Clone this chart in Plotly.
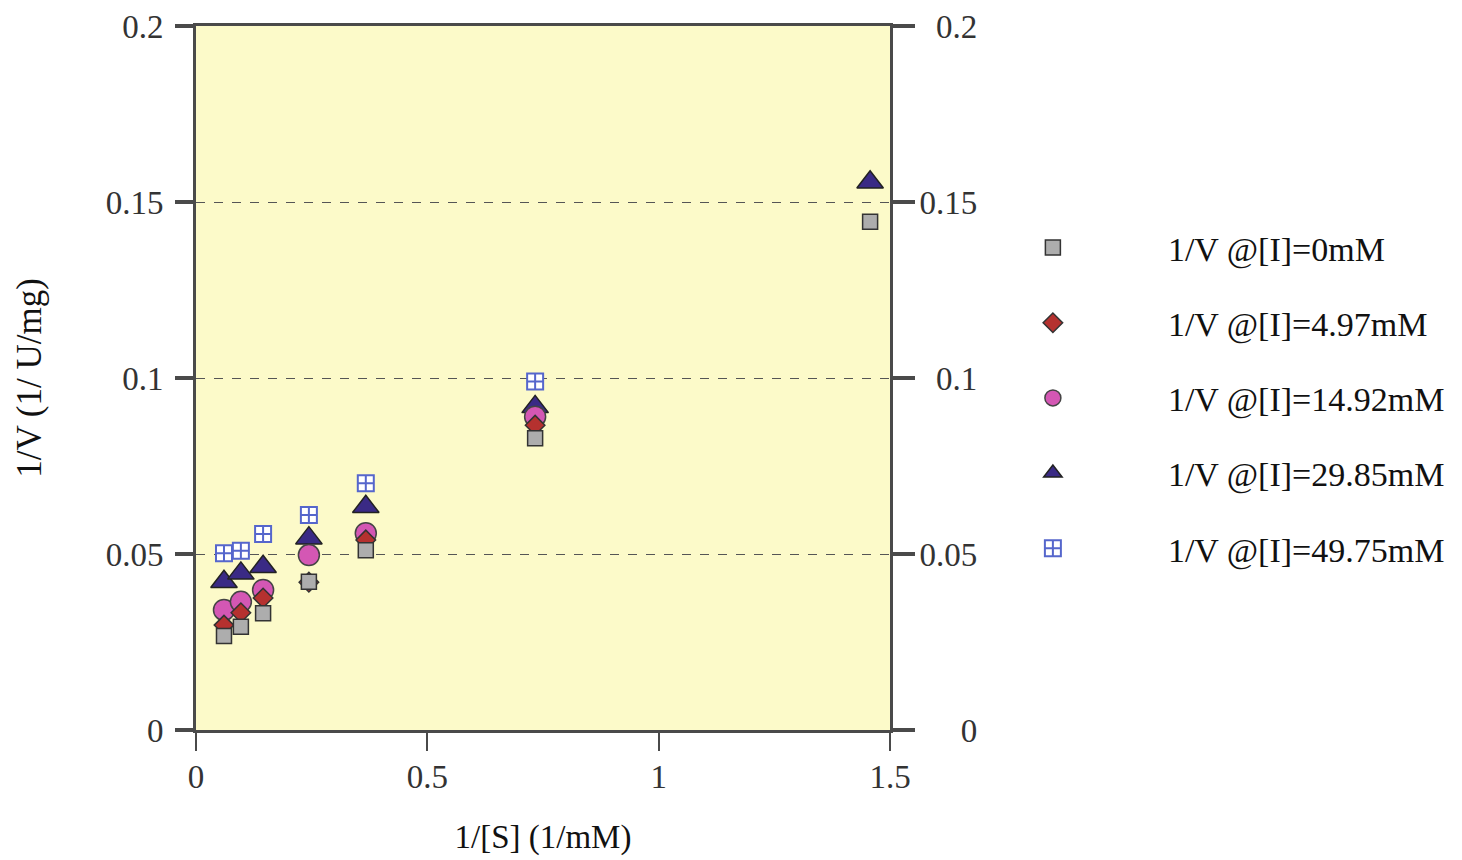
import plotly.graph_objects as go

# 1/[S] values (1/mM)
inv_s = [0.0605, 0.097, 0.145, 0.244, 0.367, 0.733, 1.457]

series_names = [
    "1/V @[I]=0mM",
    "1/V @[I]=4.97mM",
    "1/V @[I]=14.92mM",
    "1/V @[I]=29.85mM",
    "1/V @[I]=49.75mM",
]

inv_v_0 = [0.0267, 0.0293, 0.0332, 0.0421, 0.0511, 0.0829, 0.1444]
inv_v_497 = [0.0298, 0.0333, 0.0375, 0.0420, 0.0540, 0.0866, None]
inv_v_1492 = [0.0341, 0.0364, 0.0398, 0.0497, 0.0559, 0.0890, None]
inv_v_2985 = [0.0421, 0.0445, 0.0464, 0.0545, 0.0634, 0.0918, 0.1556]
inv_v_4975 = [0.0502, 0.0509, 0.0557, 0.0611, 0.0701, 0.0990, None]

y_ticks = [0, 0.05, 0.1, 0.15, 0.2]
y_left_text = ["0", "0.05", "0.1", "0.15", "0.2"]
y_right_text = ["\u2007\u2007\u20080", "0.05", "\u20070.1", "0.15", "\u20070.2"]
x_ticks = [0, 0.5, 1, 1.5]
x_tick_text = ["0", "0.5", "1", "1.5"]

series_values = [inv_v_0, inv_v_497, inv_v_1492, inv_v_2985, inv_v_4975]
styles = [
    dict(symbol="square", size=15, color="#adadad", line=dict(color="#333333", width=1.5)),
    dict(symbol="diamond", size=15, color="#b5312f", line=dict(color="#333333", width=1.5)),
    dict(symbol="circle", size=21, color="#d457b4", line=dict(color="#444444", width=1.5)),
    dict(symbol="triangle-up", size=23, color="#3a2a85", line=dict(color="#222222", width=1.5)),
    dict(symbol="square-cross", size=16, color="#ffffff", line=dict(color="#5566cc", width=2)),
]

FONT = "Liberation Serif, Times New Roman, serif"

fig = go.Figure()
# draw last series first so that the first series sits on top (as in the reference)
for i in reversed(range(len(series_names))):
    fig.add_trace(go.Scatter(
        x=inv_s, y=series_values[i], mode="markers", name=series_names[i],
        marker=styles[i], legendrank=i + 1, legendgroup=f"g{i}",
        cliponaxis=False,
    ))

# invisible trace to bind right axis
fig.add_trace(go.Scatter(x=[None], y=[None], yaxis="y2", showlegend=False, hoverinfo="skip"))

axis_color = "#4a4a4a"
fig.update_layout(
    width=1454, height=852,
    margin=dict(l=188, r=572, t=18, b=130, autoexpand=False),
    paper_bgcolor="white",
    plot_bgcolor="#fcfac9",
    font=dict(family=FONT, size=33, color="#333333"),
    showlegend=True,
    legend=dict(
        x=1.069, y=0.726, xanchor="left", yanchor="top",
        font=dict(family=FONT, size=34, color="#111111"),
        itemwidth=220, tracegroupgap=28, bgcolor="rgba(0,0,0,0)",
    ),
    xaxis=dict(
        range=[0, 1.5], tickvals=x_ticks, ticktext=x_tick_text,
        showline=True, linecolor=axis_color, linewidth=3, mirror=True,
        ticks="outside", ticklen=18, tickwidth=2, tickcolor=axis_color,
        showgrid=False, zeroline=False, ticklabelstandoff=-3, automargin=False,
        title=dict(text="1/[S] (1/mM)", font=dict(size=33, color="#111111"), standoff=32),
    ),
    yaxis=dict(
        range=[0, 0.2], tickvals=y_ticks, ticktext=y_left_text,
        showline=True, linecolor=axis_color, linewidth=3,
        ticks="outside", ticklen=18, tickwidth=4, tickcolor=axis_color,
        showgrid=True, gridcolor="#555555", gridwidth=1, griddash="dash",
        zeroline=False, ticklabelstandoff=5, automargin=False,
        title=dict(text="1/V (1/ U/mg)", font=dict(size=35, color="#111111"), standoff=54),
    ),
    yaxis2=dict(
        range=[0, 0.2], tickvals=y_ticks, ticktext=y_right_text,
        overlaying="y", side="right",
        showline=True, linecolor=axis_color, linewidth=3,
        ticks="outside", ticklen=22, tickwidth=4, tickcolor=axis_color,
        showgrid=False, zeroline=False, ticklabelstandoff=-2, automargin=False,
    ),
)

fig.write_html("out.html")
